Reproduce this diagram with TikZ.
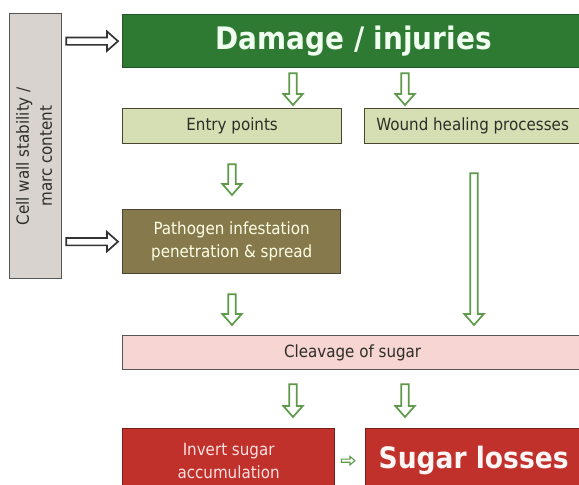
\documentclass[tikz,border=0pt]{standalone}
\usepackage{fontspec}
\IfFontExistsTF{DejaVu Sans Condensed}
  {\setmainfont{DejaVu Sans Condensed}}
  {\setmainfont[FakeStretch=0.9]{DejaVu Sans}}
\usetikzlibrary{calc}
\definecolor{damagegreen}{HTML}{2F7A33}
\definecolor{darkgreen}{HTML}{24542A}
\definecolor{lightolive}{HTML}{D5DFB3}
\definecolor{olive}{HTML}{867A4C}
\definecolor{oliveline}{HTML}{4A4530}
\definecolor{rosepink}{HTML}{F6D5D2}
\definecolor{sugarred}{HTML}{C0312B}
\definecolor{redline}{HTML}{7A1E1A}
\definecolor{wallgray}{HTML}{D9D3D0}
\definecolor{lineframe}{HTML}{555555}
\definecolor{inktext}{HTML}{2E2E28}
\definecolor{arrowgreen}{HTML}{5E9A4A}
\definecolor{arrowdark}{HTML}{333333}
\newcommand\shafthw{3.7pt}
\newcommand\headhw{9.7pt}
\newcommand\headlen{11pt}

\begin{document}
\begin{tikzpicture}[x=1pt,y=-1pt,
  box/.style 2 args={draw=#1, fill=#2, line width=1.3pt, inner sep=0pt, anchor=north west,
    align=center, text=inktext, font=\fontsize{16.8}{23}\selectfont},
  bigtext/.style={font=\fontsize{31}{36}\selectfont\bfseries},
  small arrow/.code={\renewcommand\shafthw{1.6pt}\renewcommand\headhw{4.2pt}\renewcommand\headlen{5pt}},
  hollow/.style 2 args={draw=arrowgreen, fill=white, line width=1.7pt,
    to path={
      ($(\tikztostart)!#1!(\tikztotarget)!\shafthw!90:(\tikztotarget)$)
   -- ($(\tikztotarget)!#2+\headlen!(\tikztostart)!\shafthw!90:(\tikztotarget)$)
   -- ($(\tikztotarget)!#2+\headlen!(\tikztostart)!\headhw!90:(\tikztotarget)$)
   -- ($(\tikztotarget)!#2!(\tikztostart)$)
   -- ($(\tikztotarget)!#2+\headlen!(\tikztostart)!\headhw!-90:(\tikztotarget)$)
   -- ($(\tikztotarget)!#2+\headlen!(\tikztostart)!\shafthw!-90:(\tikztotarget)$)
   -- ($(\tikztostart)!#1!(\tikztotarget)!\shafthw!-90:(\tikztotarget)$)
   -- cycle}}]
\fill[white] (0,0) rectangle (579,485);
\useasboundingbox (0,0) rectangle (579,485);
\clip (0,0) rectangle (579,485);
%boxes
\node[box={lineframe}{wallgray}, minimum width=52, minimum height=265] (wall) at (9,13)
  {\rotatebox{90}{\begin{tabular}{@{}c@{}}Cell wall stability /\\ marc content\end{tabular}\hspace*{20pt}}};
\node[box={darkgreen}{damagegreen}, minimum width=462, minimum height=53, bigtext, text=white!94!green] (damage) at (122,14) {Damage / injuries};
\node[box={oliveline}{lightolive}, minimum width=219, minimum height=35] (entry) at (122,108) {Entry points};
\node[box={oliveline}{lightolive}, minimum width=216, minimum height=35] (wound) at (364,108) {Wound healing processes};
\node[box={oliveline}{olive}, minimum width=218, minimum height=64, text=white!90!yellow] (path) at (122,209) {Pathogen infestation\\ penetration \& spread};
\node[box={lineframe}{rosepink}, minimum width=460, minimum height=34] (cleave) at (122,335) {Cleavage of sugar};
\node[box={redline}{sugarred}, minimum width=212, minimum height=64, text=white!88!red] (invert) at (122,428) {Invert sugar\\ accumulation};
\node[box={redline}{sugarred}, minimum width=216, minimum height=64, font=\fontsize{29.5}{34}\selectfont\bfseries, text=white!96!red] (losses) at (365,428) {Sugar losses};
%arrow columns
\coordinate (c1) at (293,0);
\coordinate (c2) at (405,0);
\coordinate (c3) at (232,0);
\coordinate (c4) at (474,0);
%arrows
\foreach \s/\t/\c/\g/\h in {damage/entry/c1/5pt/3pt, damage/wound/c2/5pt/3pt, entry/path/c3/20pt/14pt,
  wound/cleave/c4/29pt/10pt, path/cleave/c3/20pt/10pt, cleave/invert/c1/14pt/11pt, cleave/losses/c2/14pt/11pt}
  \draw[hollow={\g}{\h}] (\s.south -| \c) to (\t.north -| \c);
\draw[hollow={4pt}{4pt}, draw=arrowdark] (wall.east |- damage.west) to (damage.west);
\draw[hollow={4pt}{4pt}, draw=arrowdark] (wall.east |- path.west) to (path.west);
\draw[hollow={6pt}{10pt}, small arrow, line width=1.1pt] (invert.east) to (losses.west);
\end{tikzpicture}
\end{document}
